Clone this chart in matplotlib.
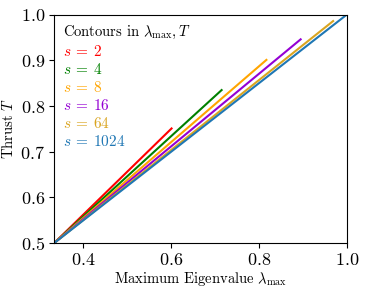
import numpy as np
import matplotlib
matplotlib.use('Agg')
import matplotlib.pyplot as plt

plt.rcParams['font.family'] = 'serif'
plt.rcParams['font.serif'] = ['cmr10']
plt.rcParams['mathtext.fontset'] = 'cm'
plt.rcParams['axes.formatter.use_mathtext'] = True

# contour endpoints (all start at lambda=1/3, T=0.5)
s_values = [2, 4, 8, 16, 64, 1024]
lam_start = [1 / 3] * 6
thrust_start = [0.5] * 6
lam_end = [0.601, 0.715, 0.817, 0.895, 0.969, 1.0]
thrust_end = [0.751, 0.835, 0.901, 0.946, 0.986, 1.0]
colors = ['red', 'green', 'orange', 'darkviolet', 'goldenrod', 'tab:blue']

fig, ax = plt.subplots(figsize=(3.65, 2.93), dpi=100)

for s, x0, y0, x1, y1, c in zip(s_values, lam_start, thrust_start, lam_end, thrust_end, colors):
    ax.plot([x0, x1], [y0, y1], color=c, lw=1.5, label=rf'$s\:=\:{s}$')

ax.set_xlim(1 / 3, 1.0)
ax.set_ylim(0.5, 1.0)
ax.set_xticks([0.4, 0.6, 0.8, 1.0])
ax.set_yticks([0.5, 0.6, 0.7, 0.8, 0.9, 1.0])
ax.tick_params(labelsize=13, pad=3)
ax.set_xlabel(r'Maximum Eigenvalue $\lambda_{\max}$', fontsize=10.5, labelpad=1)
ax.set_ylabel(r'Thrust $T$', fontsize=10.5, labelpad=3)

leg = ax.legend(loc='upper left', frameon=False, handlelength=0, handletextpad=0,
                labelcolor='linecolor', fontsize=11,
                title=r'Contours in $\lambda_{\max}, T$', title_fontsize=10.5,
                alignment='left', labelspacing=0.2, borderpad=0.3,
                borderaxespad=0.3)

plt.subplots_adjust(left=0.148, right=0.95, top=0.95, bottom=0.17)
fig.savefig('out.png', dpi=100)
